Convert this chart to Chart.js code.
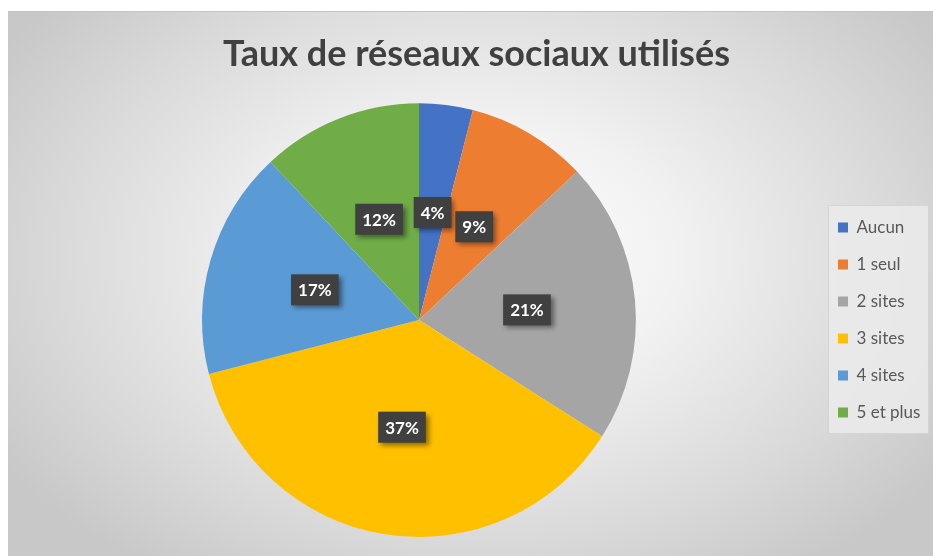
<!DOCTYPE html>
<html>
<head>
<meta charset="utf-8">
<script src="https://cdn.jsdelivr.net/npm/chart.js@4"></script>
<style>
  html, body { margin: 0; padding: 0; background: #fff; overflow: hidden; }
  #wrap {
    position: absolute; left: 8px; top: 11px; width: 937px; height: 545px;
    border-top: 1px solid #c4c4c4;
    background: radial-gradient(ellipse 60% 70% at 50% 45%, #ffffff 0%, #f2f2f2 35%, #d9d9d9 75%, #c8c8c8 100%);
  }
  canvas { display: block; }
</style>
</head>
<body>
<div id="wrap"><canvas id="chart" width="937" height="544"></canvas></div>
<script>
// categories + values (percent)
const categories = ['Aucun', '1 seul', '2 sites', '3 sites', '4 sites', '5 et plus'];
const valeurs = [4, 9, 21, 37, 17, 12];
const couleurs = ['#4472C4', '#ED7D31', '#A5A5A5', '#FFC000', '#5B9BD5', '#70AD47'];
const titre = 'Taux de réseaux sociaux utilisés';

// pie area and legend placement (canvas px)
const zonePie = { left: 14, right: 808 };
const legendeX = 810;

const placement = {
    id: 'placement',
    afterLayout(chart) {
        const a = chart.chartArea;
        a.left = zonePie.left;
        a.right = zonePie.right;
        a.width = a.right - a.left;
        // legend vertically centred on the pie
        const lg = chart.legend;
        lg.top = a.top;
        lg.bottom = a.bottom;
        lg.height = a.bottom - a.top;
        lg.left = legendeX;
        lg.right = legendeX + lg.width;
    }
};

// dark label boxes in the middle of each slice
const etiquettes = {
    id: 'etiquettes',
    afterDatasetsDraw(chart) {
        const ctx = chart.ctx;
        const meta = chart.getDatasetMeta(0);
        ctx.save();
        ctx.font = 'bold 17px Lato, "Open Sans", sans-serif';
        ctx.textAlign = 'center';
        ctx.textBaseline = 'middle';
        meta.data.forEach((arc, i) => {
            const p = arc.tooltipPosition();
            const txt = valeurs[i] + '%';
            const w = ctx.measureText(txt).width + 14;
            const h = 31;
            ctx.save();
            ctx.shadowColor = 'rgba(0,0,0,0.45)';
            ctx.shadowBlur = 5;
            ctx.shadowOffsetX = 3;
            ctx.shadowOffsetY = 3;
            ctx.fillStyle = '#404040';
            ctx.fillRect(p.x - w / 2, p.y - h / 2, w, h);
            ctx.restore();
            ctx.fillStyle = '#ffffff';
            ctx.fillText(txt, p.x, p.y + 1);
        });
        ctx.restore();
    }
};

// light box behind the legend
const cadreLegende = {
    id: 'cadreLegende',
    beforeDraw(chart) {
        const boxes = chart.legend && chart.legend.legendHitBoxes;
        if (!boxes || !boxes.length) return;
        const top = Math.min(...boxes.map(b => b.top)) - 14;
        const bottom = Math.max(...boxes.map(b => b.top + b.height)) + 12;
        const left = Math.min(...boxes.map(b => b.left)) - 10;
        const right = left + 100;
        const ctx = chart.ctx;
        ctx.save();
        ctx.fillStyle = 'rgba(235,235,235,0.85)';
        ctx.strokeStyle = '#d4d4d4';
        ctx.lineWidth = 1;
        ctx.fillRect(left, top, right - left, bottom - top);
        ctx.strokeRect(left + 0.5, top + 0.5, right - left, bottom - top);
        ctx.restore();
    }
};

new Chart(document.getElementById('chart'), {
    type: 'pie',
    data: {
        labels: categories,
        datasets: [{ data: valeurs, backgroundColor: couleurs, borderWidth: 0, hoverOffset: 0 }]
    },
    options: {
        responsive: false,
        animation: false,
        layout: { padding: { left: 0, right: 0, top: 0, bottom: 19 } },
        plugins: {
            title: {
                display: true,
                text: titre,
                color: '#404040',
                font: { family: 'Lato, "Open Sans", sans-serif', size: 36, weight: 'bold', lineHeight: 1.2 },
                padding: { top: 21, bottom: 27 }
            },
            legend: {
                position: 'right',
                labels: {
                    boxWidth: 10,
                    boxHeight: 10,
                    padding: 20,
                    color: '#595959',
                    font: { family: 'Lato, "Open Sans", sans-serif', size: 17 }
                }
            },
            tooltip: { enabled: false }
        }
    },
    plugins: [placement, cadreLegende, etiquettes]
});
</script>
</body>
</html>
